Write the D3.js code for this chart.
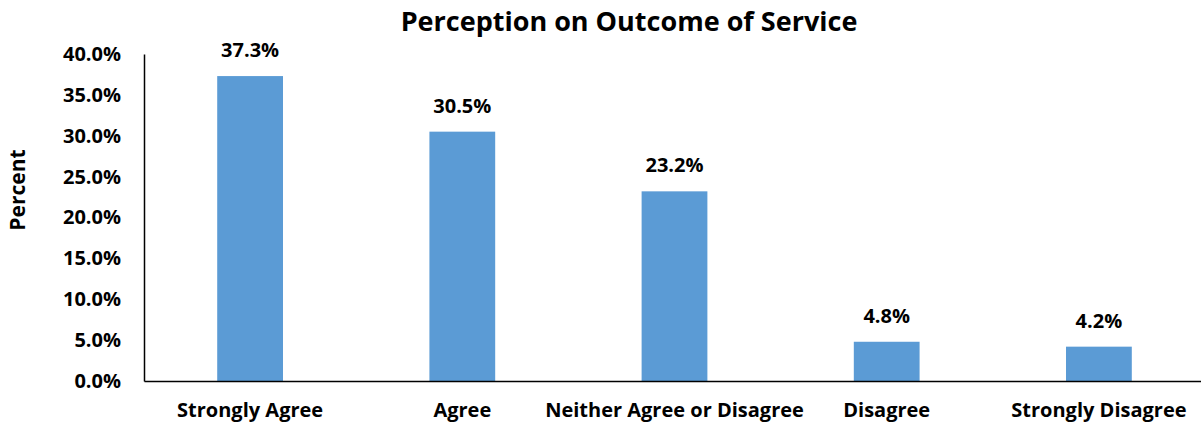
<!DOCTYPE html>
<html>
<head>
<meta charset="utf-8">
<script src="https://cdn.jsdelivr.net/npm/d3@7"></script>
<style>
  html, body { margin: 0; padding: 0; background: #fff; }
  svg { display: block; font-family: "Open Sans", Lato, sans-serif; font-weight: bold; }
</style>
</head>
<body>
<svg id="chart" width="1201" height="428"></svg>
<script>
const categories = ["Strongly Agree", "Agree", "Neither Agree or Disagree", "Disagree", "Strongly Disagree"];
const values = [37.3, 30.5, 23.2, 4.8, 4.2];
const yTicks = [0, 5, 10, 15, 20, 25, 30, 35, 40];

const FONT = "'Open Sans', Lato, sans-serif";
const svg = d3.select("#chart");
const plotLeft = 144, plotRight = 1205, plotTop = 54, plotBottom = 381;

const x = d3.scaleBand().domain(categories).range([plotLeft, plotRight]).paddingInner(0.69).paddingOuter(0.345);
const y = d3.scaleLinear().domain([0, 40]).range([plotBottom, plotTop]);

// bars
svg.selectAll("rect.bar").data(values).join("rect")
  .attr("class", "bar")
  .attr("x", (d, i) => x(categories[i]))
  .attr("width", x.bandwidth())
  .attr("y", d => y(d))
  .attr("height", d => y(0) - y(d))
  .attr("fill", "#5B9BD5");

// value labels
svg.selectAll("text.val").data(values).join("text")
  .attr("class", "val")
  .attr("x", (d, i) => x(categories[i]) + x.bandwidth() / 2)
  .attr("y", d => y(d) - 19)
  .attr("text-anchor", "middle")
  .attr("font-size", 20)
  .attr("fill", "#000")
  .text(d => d.toFixed(1) + "%");

// y axis
const yAxis = svg.append("g").attr("transform", `translate(${plotLeft},0)`)
  .call(d3.axisLeft(y).tickValues(yTicks).tickSize(0).tickPadding(23).tickFormat(d => d.toFixed(1) + "%"));
yAxis.select(".domain").attr("stroke", "#000").attr("stroke-width", 1.5);
yAxis.selectAll("text").attr("font-size", 20).attr("font-family", FONT).attr("font-weight", "bold").attr("fill", "#000");

// x axis
const xAxis = svg.append("g").attr("transform", `translate(0,${plotBottom})`)
  .call(d3.axisBottom(x).tickSize(0).tickPadding(22));
xAxis.select(".domain").attr("stroke", "#000").attr("stroke-width", 1.5);
xAxis.selectAll("text").attr("font-size", 20).attr("font-family", FONT).attr("font-weight", "bold").attr("fill", "#000");

// title
svg.append("text")
  .attr("x", 629).attr("y", 31)
  .attr("text-anchor", "middle")
  .attr("font-size", 27)
  .attr("fill", "#000")
  .text("Perception on Outcome of Service");

// y axis title
svg.append("text")
  .attr("transform", "translate(25,190) rotate(-90)")
  .attr("text-anchor", "middle")
  .attr("font-size", 21)
  .attr("fill", "#000")
  .text("Percent");
</script>
</body>
</html>
